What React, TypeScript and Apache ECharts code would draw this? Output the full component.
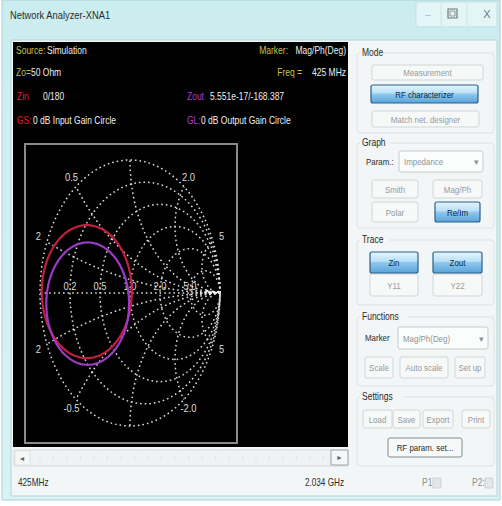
import React, { useEffect, useRef } from "react";
import * as echarts from "echarts";

// ---------------- data ----------------
const resistanceValues = [0, 0.2, 0.5, 1, 2, 5];
const resistanceLabels = ["", "0.2", "0.5", "1.0", "2.0", "5.0"];
const reactanceValues = [0.2, 0.5, 1, 2, 5, -0.2, -0.5, -1, -2, -5];
const reactanceLabels = ["2", "0.5", "", "2.0", "5", "2", "-0.5", "", "-2.0", "5"];
const circleNames = ["GS: 0 dB Input Gain Circle", "GL: 0 dB Output Gain Circle"];
const circleCenterRe = [-0.48, -0.47];
const circleCenterIm = [0.01, -0.08];
const circleRadius = [0.5, 0.46];
const traceRe = [0.83, 0.86, 0.89, 0.92, 0.95, 0.98, 1.0];
const traceIm = [0.0, 0.02, -0.01, 0.015, -0.005, 0.012, 0.0];

const headerSource = "Simulation";
const headerZ0 = "50 Ohm";
const headerMarker = "Mag/Ph(Deg)";
const headerFreq = "425 MHz";
const traceLabels = ["Zin", "Zout"];
const traceValues = ["0/180", "5.551e-17/-168.387"];
const freqStart = "425MHz";
const freqEnd = "2.034 GHz";

// ---------------- styles ----------------
const circleColors = ["#c01f40", "#9b3ac4"];
const FONT = '"Liberation Sans", Arial, sans-serif';
const GRID_COLOR = "#dcdcdc";

function T(x: number, y: number, text: string, fill: string, size = 10, align = "left", sx = 0.85, weight = "normal"): any {
  return {
    type: "text", x, y, scaleX: sx, silent: true,
    style: {
      text, fill, font: `${weight} ${size}px ${FONT}`,
      textAlign: align, align, textVerticalAlign: "middle", verticalAlign: "middle",
    },
  };
}

function blueGrad() {
  return new echarts.graphic.LinearGradient(0, 0, 0, 1, [
    { offset: 0, color: "#e6f5fd" },
    { offset: 0.45, color: "#b7dff6" },
    { offset: 0.5, color: "#8fc8ee" },
    { offset: 1, color: "#5ba4d8" },
  ]);
}

function B(x: number, y: number, w: number, h: number, label: string, active: boolean, dark = false): any[] {
  return [
    {
      type: "rect", silent: true,
      shape: { x, y, width: w, height: h, r: 2 },
      style: { fill: active ? blueGrad() : "#f7f8f8", stroke: active ? "#2b5f86" : dark ? "#7f8e90" : "#cfd6d6", lineWidth: active ? 1.2 : 1 },
    },
    T(x + w / 2, y + h / 2 + 0.5, label, active ? "#10283c" : dark ? "#2a2a2a" : "#959b9d", 9, "center", 0.88),
  ];
}

function G(y1: number, y2: number, label: string): any[] {
  return [
    { type: "rect", silent: true, shape: { x: 357, y: y1, width: 137, height: y2 - y1, r: 3 }, style: { fill: "none", stroke: "#dce3e3", lineWidth: 1 } },
    { type: "rect", silent: true, shape: { x: 360, y: y1 - 6, width: label.length * 4.6 + 6, height: 12 }, style: { fill: "#f3f6f6" } },
    T(362, y1, label, "#2a2a2a", 10, "left", 0.85),
  ];
}

function Dropdown(x: number, y: number, w: number, h: number, label: string): any[] {
  return [
    { type: "rect", silent: true, shape: { x, y, width: w, height: h, r: 2 }, style: { fill: "#fbfcfc", stroke: "#c4cbcb", lineWidth: 1 } },
    T(x + 5, y + h / 2 + 0.5, label, "#8d9395", 9, "left", 0.88),
    T(x + w - 7, y + h / 2 + 0.5, "▾", "#8d9395", 9, "center", 1),
  ];
}

function buildGraphic(): any[] {
  const els: any[] = [];
  els.push({ type: "rect", silent: true, shape: { x: 0, y: 0, width: 502, height: 506 }, style: { fill: "#ffffff" } });
  els.push({
    type: "rect", silent: true, shape: { x: 2, y: 0, width: 498, height: 500 },
    style: {
      fill: new echarts.graphic.LinearGradient(0, 0, 0, 1, [
        { offset: 0, color: "#cbedf0" },
        { offset: 1, color: "#d9f2f4" },
      ]),
      stroke: "#a9d0d5", lineWidth: 1,
    },
  });
  // title
  els.push(T(10, 15, "Network Analyzer-XNA1", "#2a2a2a", 11, "left", 0.85));
  // caption buttons
  els.push({ type: "rect", silent: true, shape: { x: 416, y: 2, width: 81, height: 25, r: 2 }, style: { fill: "#e3f5f6", stroke: "#c2dfe2", lineWidth: 1 } });
  els.push({ type: "line", silent: true, shape: { x1: 441, y1: 3, x2: 441, y2: 26 }, style: { stroke: "#cfe6e8" } });
  els.push({ type: "line", silent: true, shape: { x1: 467, y1: 3, x2: 467, y2: 26 }, style: { stroke: "#cfe6e8" } });
  els.push(T(428, 14, "–", "#b0b8ba", 10, "center", 1));
  els.push({ type: "rect", silent: true, shape: { x: 448, y: 9, width: 9, height: 9 }, style: { fill: "none", stroke: "#6f7779", lineWidth: 1.2 } });
  els.push({ type: "rect", silent: true, shape: { x: 450, y: 11, width: 5, height: 5 }, style: { fill: "none", stroke: "#8f9799", lineWidth: 1 } });
  els.push(T(487, 14, "X", "#6f7779", 11, "center", 1));

  // client area
  els.push({ type: "rect", silent: true, shape: { x: 11, y: 40, width: 486, height: 456 }, style: { fill: "#f3f6f6", stroke: "#b6d3d7", lineWidth: 1 } });
  // black display
  els.push({ type: "rect", silent: true, shape: { x: 13, y: 42, width: 335, height: 405 }, style: { fill: "#000000" } });
  // plot box
  els.push({ type: "rect", silent: true, shape: { x: 25, y: 144, width: 212, height: 299 }, style: { fill: "none", stroke: "#8a8a8a", lineWidth: 2 } });

  // header texts
  const YEL = "#c9c24a";
  const WH = "#eeeeee";
  els.push(T(16, 51, "Source:", YEL));
  els.push(T(47, 51, headerSource, WH));
  els.push(T(16, 73, "Zo=", "#b5c44a"));
  els.push(T(31, 73, headerZ0, WH));
  els.push(T(346, 51, headerMarker, WH, 10, "right"));
  els.push(T(288, 51, "Marker:", YEL, 10, "right"));
  els.push(T(346, 73, headerFreq, WH, 10, "right"));
  els.push(T(302, 73, "Freq =", YEL, 10, "right"));
  els.push(T(17, 97, traceLabels[0], "#e0202c"));
  els.push(T(43, 97, traceValues[0], WH));
  els.push(T(187, 97, traceLabels[1], "#b23cca"));
  els.push(T(210, 97, traceValues[1], WH));
  els.push(T(17, 121, circleNames[0].split(": ")[0] + ":", "#e0202c"));
  els.push(T(33, 121, circleNames[0].split(": ")[1], WH));
  els.push(T(187, 121, circleNames[1].split(": ")[0] + ":", "#b23cca"));
  els.push(T(201, 121, circleNames[1].split(": ")[1], WH));

  // right panel
  els.push(...G(53, 133, "Mode"));
  els.push(...B(372, 65, 111, 15, "Measurement", false));
  els.push(...B(371, 85, 107, 18, "RF characterizer", true));
  els.push(...B(372, 111, 107, 16, "Match net. designer", false));

  els.push(...G(143, 228, "Graph"));
  els.push(T(366, 162, "Param.:", "#2a2a2a", 9, "left", 0.88));
  els.push(...Dropdown(399, 151, 84, 21, "Impedance"));
  els.push(...B(372, 180, 46, 18, "Smith", false));
  els.push(...B(433, 180, 49, 18, "Mag/Ph", false));
  els.push(...B(372, 202, 46, 20, "Polar", false));
  els.push(...B(435, 202, 45, 20, "Re/Im", true));

  els.push(...G(240, 305, "Trace"));
  els.push(...B(370, 274, 48, 22, "Y11", false));
  els.push(...B(433, 274, 49, 22, "Y22", false));
  els.push(...B(370, 252, 48, 21, "Zin", true));
  els.push(...B(433, 252, 49, 21, "Zout", true));

  els.push(...G(317, 386, "Functions"));
  els.push(T(365, 338, "Marker", "#2a2a2a", 9, "left", 0.88));
  els.push(...Dropdown(398, 327, 90, 22, "Mag/Ph(Deg)"));
  els.push(...B(365, 357, 28, 21, "Scale", false));
  els.push(...B(400, 357, 48, 21, "Auto scale", false));
  els.push(...B(455, 357, 30, 21, "Set up", false));

  els.push(...G(397, 466, "Settings"));
  els.push(...B(363, 410, 29, 18, "Load", false));
  els.push(...B(393, 410, 27, 18, "Save", false));
  els.push(...B(423, 410, 30, 18, "Export", false));
  els.push(...B(462, 410, 28, 18, "Print", false));
  els.push(...B(388, 438, 74, 19, "RF param. set...", false, true));

  // scroll bar
  els.push({ type: "rect", silent: true, shape: { x: 14, y: 450, width: 334, height: 16 }, style: { fill: "#eef2f2", stroke: "#d3d9d9", lineWidth: 1 } });
  for (let i = 0; i < 22; i++) {
    const x = 40 + i * 13.5;
    els.push({ type: "line", silent: true, shape: { x1: x, y1: 455, x2: x, y2: 461 }, style: { stroke: "#e0e5e5", lineWidth: 1 } });
  }
  els.push({ type: "rect", silent: true, shape: { x: 15, y: 451, width: 15, height: 14 }, style: { fill: "#f5f7f7", stroke: "#dde2e2" } });
  els.push(T(22, 458, "◄", "#606668", 7, "center", 1));
  els.push({ type: "rect", silent: true, shape: { x: 331, y: 450, width: 17, height: 15 }, style: { fill: "#f5f7f7", stroke: "#9aa4a6" } });
  els.push(T(339.5, 457.5, "►", "#606668", 7, "center", 1));

  // bottom labels
  els.push(T(18, 483, freqStart, "#2e2e2e", 10, "left", 0.82));
  els.push(T(344, 483, freqEnd, "#2e2e2e", 10, "right", 0.82));
  els.push(T(422, 483, "P1:", "#8a9092", 10, "left", 0.85));
  els.push({ type: "rect", silent: true, shape: { x: 433, y: 478, width: 8, height: 10 }, style: { fill: "#e2e6e6", stroke: "#cdd3d3" } });
  els.push(T(472, 483, "P2:", "#8a9092", 10, "left", 0.85));
  els.push({ type: "rect", silent: true, shape: { x: 485, y: 478, width: 8, height: 10 }, style: { fill: "#e2e6e6", stroke: "#cdd3d3" } });
  return els;
}

function circlePoints(api: any, cx: number, cy: number, r: number, n = 160) {
  const pts: number[][] = [];
  for (let i = 0; i <= n; i++) {
    const t = (i / n) * 2 * Math.PI;
    pts.push(api.coord([cx + r * Math.cos(t), cy + r * Math.sin(t)]));
  }
  return pts;
}

function reactanceEnd(x: number) {
  return [(x * x - 1) / (x * x + 1), (2 * x) / (x * x + 1)];
}

const dotted = { stroke: GRID_COLOR, lineWidth: 1.5, lineDash: [1.6, 3], fill: null };

function buildOption(): any {
  return {
    animation: false,
    backgroundColor: "#ffffff",
    grid: { left: 40, top: 160, width: 180, height: 266 },
    xAxis: { type: "value", min: -1, max: 1, show: false },
    yAxis: { type: "value", min: -1, max: 1, show: false },
    graphic: { elements: buildGraphic() },
    series: [
      {
        type: "custom", name: "resistance", coordinateSystem: "cartesian2d", silent: true, z: 2,
        data: resistanceValues.map((r) => [r, 0]),
        renderItem: (params: any, api: any) => {
          const r = api.value(0);
          return { type: "polyline", shape: { points: circlePoints(api, r / (1 + r), 0, 1 / (1 + r)) }, style: dotted };
        },
      },
      {
        type: "custom", name: "reactance", coordinateSystem: "cartesian2d", silent: true, z: 2,
        data: reactanceValues.map((x) => [x, 0]),
        renderItem: (params: any, api: any) => {
          const x = api.value(0);
          const cy = 1 / x;
          const rad = Math.abs(1 / x);
          const p = reactanceEnd(x);
          const a0 = x > 0 ? -Math.PI / 2 : Math.PI / 2;
          let a1 = Math.atan2(p[1] - cy, p[0] - 1);
          if (x > 0) { while (a1 > a0) a1 -= 2 * Math.PI; } else { while (a1 < a0) a1 += 2 * Math.PI; }
          const pts: number[][] = [];
          const n = 80;
          for (let i = 0; i <= n; i++) {
            const a = a0 + ((a1 - a0) * i) / n;
            pts.push(api.coord([1 + rad * Math.cos(a), cy + rad * Math.sin(a)]));
          }
          return { type: "polyline", shape: { points: pts }, style: dotted };
        },
      },
      {
        type: "line", name: "real axis", silent: true, z: 2, symbol: "none",
        data: [[-1, 0], [1, 0]],
        lineStyle: { color: GRID_COLOR, width: 1.5, type: [1.6, 3] },
      },
      {
        type: "custom", name: "resistance labels", coordinateSystem: "cartesian2d", silent: true, z: 3,
        data: resistanceValues.map((r, i) => [r, i]),
        renderItem: (params: any, api: any) => {
          const r = api.value(0);
          const label = resistanceLabels[params.dataIndex];
          if (!label) return null;
          const pt = api.coord([(r - 1) / (r + 1), 0]);
          return {
            type: "text", x: pt[0], y: pt[1] - 7, scaleX: 0.85,
            style: { text: label, fill: "#dddddd", font: `11px ${FONT}`, textAlign: "center", align: "center", textVerticalAlign: "middle", verticalAlign: "middle" },
          };
        },
      },
      {
        type: "custom", name: "reactance labels", coordinateSystem: "cartesian2d", silent: true, z: 3,
        data: reactanceValues.map((x, i) => [x, i]),
        renderItem: (params: any, api: any) => {
          const x = api.value(0);
          const label = reactanceLabels[params.dataIndex];
          if (!label) return null;
          const p = reactanceEnd(x);
          const pt = api.coord(p);
          const c = api.coord([0, 0]);
          const dx = pt[0] - c[0], dy = pt[1] - c[1];
          const len = Math.sqrt(dx * dx + dy * dy);
          return {
            type: "text", x: pt[0] + (dx / len) * 10, y: pt[1] + (dy / len) * 10, scaleX: 0.85,
            style: { text: label, fill: "#dddddd", font: `11px ${FONT}`, textAlign: "center", align: "center", textVerticalAlign: "middle", verticalAlign: "middle" },
          };
        },
      },
      {
        type: "custom", name: "gain circles", coordinateSystem: "cartesian2d", silent: true, z: 4,
        data: circleCenterRe.map((re, i) => [re, circleCenterIm[i], circleRadius[i]]),
        renderItem: (params: any, api: any) => {
          const pts = circlePoints(api, api.value(0), api.value(1), api.value(2));
          return { type: "polyline", shape: { points: pts }, style: { stroke: circleColors[params.dataIndex], lineWidth: 2.2, fill: null } };
        },
      },
      {
        type: "line", name: "trace", silent: true, z: 4, symbol: "none",
        data: traceRe.map((re, i) => [re, traceIm[i]]),
        lineStyle: { color: "#f4f4f4", width: 1.6 },
      },
    ],
  };
}

export default function App() {
  const ref = useRef<HTMLDivElement>(null);
  useEffect(() => {
    if (!ref.current) return;
    const chart = echarts.init(ref.current, undefined, { renderer: "svg" });
    chart.setOption(buildOption());
    return () => chart.dispose();
  }, []);
  return <div ref={ref} style={{ position: "absolute", left: 0, top: 0, width: 502, height: 506 }} />;
}
